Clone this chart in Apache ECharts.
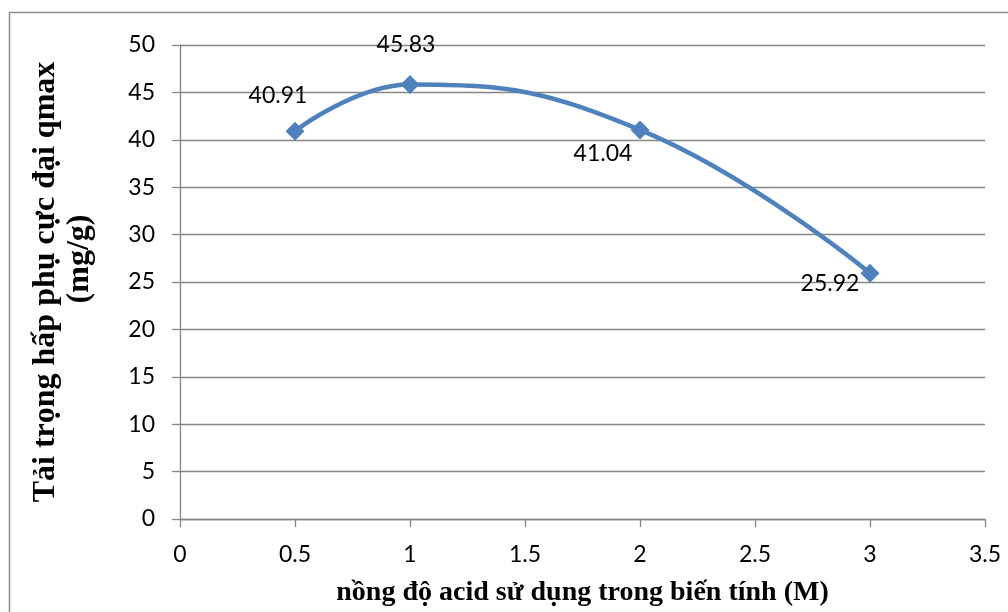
<!DOCTYPE html>
<html>
<head>
<meta charset="utf-8">
<script src="https://cdn.jsdelivr.net/npm/echarts@6/dist/echarts.min.js"></script>
<style>
  html, body { margin: 0; padding: 0; background: #fff; }
  #chart { width: 1008px; height: 612px; }
</style>
</head>
<body>
<div id="chart"></div>
<script>
// Acid concentration used in modification (M)
const acidConcentration = [0.5, 1, 2, 3];
// Maximum adsorption capacity qmax (mg/g)
const qmaxValues = [40.91, 45.83, 41.04, 25.92];

const xTitle = 'nồng độ acid sử dụng trong biến tính (M)';
const yTitleLines = ['Tải trọng hấp phụ cực đại qmax', '(mg/g)'];

// where each value label sits relative to its marker
const labelOffsets = [[-17, -36], [-4, -40], [-37, 24], [-40, 10]];

const gridColor = '#868686';
const lineColor = '#4F81BD';
const tickFont = 'Lato, "Open Sans", sans-serif';
const titleFont = '"Liberation Serif", "DejaVu Serif", serif';

const points = acidConcentration.map((x, i) => ({
  value: [x, qmaxValues[i]],
  label: { offset: labelOffsets[i] }
}));

const chart = echarts.init(document.getElementById('chart'), null, { renderer: 'canvas' });

chart.setOption({
  animation: false,
  backgroundColor: '#ffffff',
  grid: { left: 180, right: 23, top: 45, bottom: 92 },
  xAxis: {
    type: 'value',
    min: 0, max: 3.5, interval: 0.5,
    name: xTitle,
    nameLocation: 'middle',
    nameGap: 60,
    nameTextStyle: { fontFamily: titleFont, fontWeight: 'bold', fontSize: 28, color: '#000' },
    axisLine: { show: true, lineStyle: { color: gridColor, width: 1.3 } },
    axisTick: { show: true, length: 8, lineStyle: { color: gridColor, width: 1.3 } },
    axisLabel: { margin: 24, fontFamily: tickFont, fontSize: 23, color: '#000' },
    splitLine: { show: false }
  },
  yAxis: {
    type: 'value',
    min: 0, max: 50, interval: 5,
    axisLine: { show: true, lineStyle: { color: gridColor, width: 1.3 } },
    axisTick: { show: true, length: 8, lineStyle: { color: gridColor, width: 1.3 } },
    axisLabel: { margin: 25, fontFamily: tickFont, fontSize: 23, color: '#000' },
    splitLine: { show: true, lineStyle: { color: gridColor, width: 1.3 } }
  },
  series: [{
    type: 'line',
    data: points,
    smooth: 0.45,
    symbol: 'diamond',
    symbolSize: 19,
    lineStyle: { color: lineColor, width: 4.5 },
    itemStyle: { color: lineColor },
    label: {
      show: true,
      position: 'inside',
      formatter: p => p.value[1].toFixed(2),
      fontFamily: tickFont,
      fontSize: 23,
      color: '#000'
    }
  }],
  graphic: [
    {
      type: 'rect',
      shape: { x: 9.5, y: 12.5, width: 1100, height: 700 },
      style: { fill: 'none', stroke: '#8c8c8c', lineWidth: 1.5 },
      silent: true,
      z: -1
    },
    {
      type: 'text',
      x: 46, y: 282,
      rotation: Math.PI / 2,
      style: {
        text: yTitleLines[0],
        fontFamily: titleFont, fontWeight: 'bold', fontSize: 32,
        fill: '#000', align: 'center', verticalAlign: 'middle'
      }
    },
    {
      type: 'text',
      x: 80, y: 259,
      rotation: Math.PI / 2,
      style: {
        text: yTitleLines[1],
        fontFamily: titleFont, fontWeight: 'bold', fontSize: 32,
        fill: '#000', align: 'center', verticalAlign: 'middle'
      }
    }
  ]
});
</script>
</body>
</html>
